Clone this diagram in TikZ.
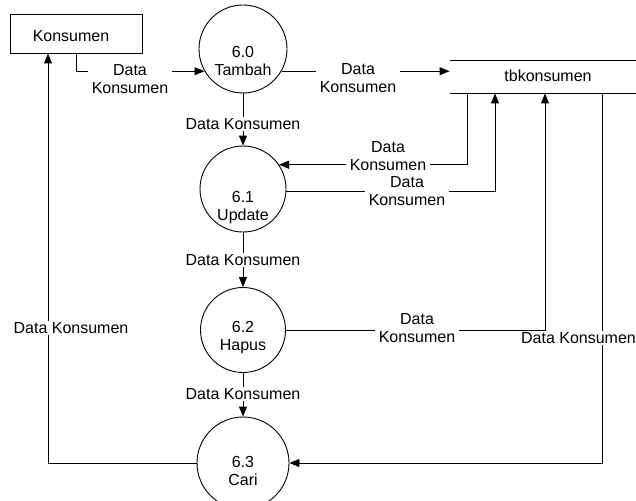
\documentclass[tikz,border=0pt]{standalone}
\usepackage{fontspec}
\setmainfont{Liberation Sans}
\usetikzlibrary{arrows.meta}
\begin{document}
\begin{tikzpicture}[x=1pt,y=-1pt,
  font=\fontsize{16}{18}\selectfont,
  line width=0.9pt,
  flow/.style={draw, -{Triangle[length=10pt,width=8pt]}},
  proc/.style={draw, circle, inner sep=0pt},
  lbl/.style={fill=white, align=center, inner xsep=4pt, inner ysep=1pt},
  ptext/.style={align=center},
  ]
\path[use as bounding box, clip] (0,0) rectangle (636,500);

% column positions of the vertical flow lines
\coordinate (xl) at (48,0);
\coordinate (xa) at (467,0);
\coordinate (xb) at (495,0);
\coordinate (xc) at (545,0);
\coordinate (xd) at (602,0);

% external entity
\node[draw, minimum width=132pt, minimum height=39pt, inner sep=0pt,
      label={[xshift=-5pt, yshift=-3pt]center:Konsumen}] (kon) at (76,33.5) {};

% data store
\node[minimum width=196pt, minimum height=32pt, inner sep=0pt,
      label={[yshift=1.5pt]center:tbkonsumen}] (tb) at (548,77) {};
\draw (tb.north west) -- (tb.north east) (tb.south west) -- (tb.south east);

% processes
\node[proc, minimum size=88pt, label={[ptext, yshift=-12pt]center:6.0\\Tambah}] (p0) at (243,49) {};
\node[proc, minimum size=86pt, label={[ptext, yshift=-19pt]center:6.1\\Update}] (p1) at (243,189) {};
\node[proc, minimum size=85pt, label={[ptext, yshift=-8pt]center:6.2\\Hapus}] (p2) at (243,330) {};
\node[proc, minimum size=92pt, label={[ptext, yshift=-8pt]center:6.3\\Cari}] (p3) at (243,463) {};

% data flows
\draw[flow] (kon.south) |- (p0.210);
\draw[flow] (p0.-30) -- (p0.-30 -| tb.west);
\draw[flow] (p0) -- (p1);
\draw[flow] (p1) -- (p2);
\draw[flow] (p2) -- (p3);
\draw[flow] (tb.south -| xa) |- (p1.34);
\draw[flow] (p1.-3) -| (tb.south -| xb);
\draw[flow] (p2.east) -| (tb.south -| xc);
\draw[flow] (tb.south -| xd) |- (p3.east);
\draw[flow] (p3.west) -| (kon.south -| xl);

% flow labels
\node[lbl] (l1) at (130,79) {Data\\Konsumen};
\node[lbl] (l2) at (358,78) {Data\\Konsumen};
\node[lbl] (l3) at (243,124) {Data Konsumen};
\node[lbl] (l4) at (388,156) {Data\\Konsumen};
\node[lbl] (l5) at (407,191) {Data\\Konsumen};
\node[lbl] (l6) at (243,260) {Data Konsumen};
\node[lbl] (l7) at (417,328) {Data\\Konsumen};
\node[lbl] (l8) at (578.5,338) {Data Konsumen};
\node[lbl] (l9) at (243,394) {Data Konsumen};
\node[lbl] (l10) at (71,328) {Data Konsumen};
\end{tikzpicture}
\end{document}
